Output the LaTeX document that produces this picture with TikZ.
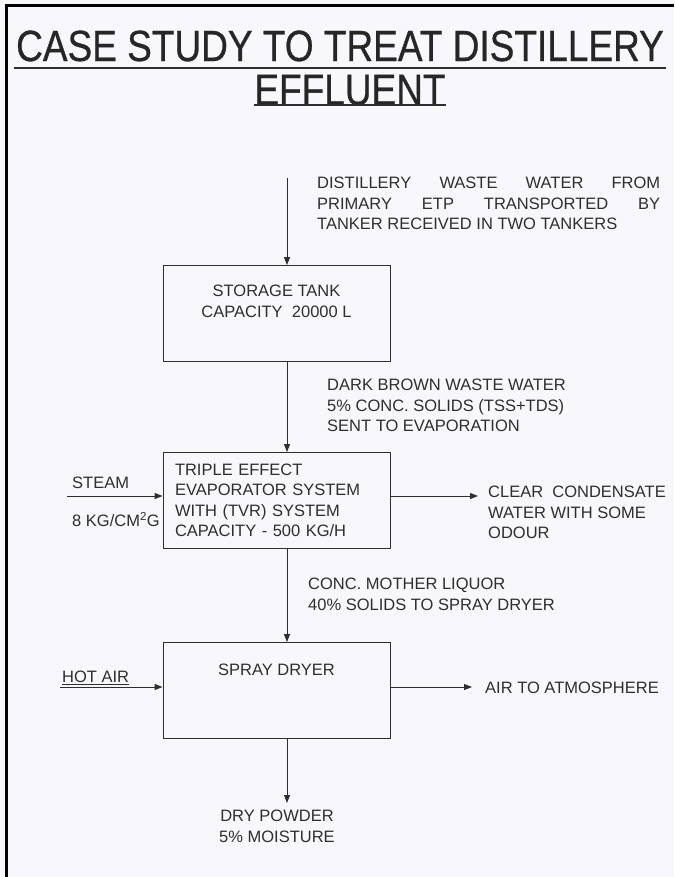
\documentclass[tikz,border=0pt]{standalone}
\usepackage{fontspec}
\setmainfont{Liberation Sans}
\newfontfamily\headfont{Liberation Sans}[FakeBold=0.7]
\usetikzlibrary{arrows.meta}
\definecolor{ink}{HTML}{2E2E2E}
\definecolor{paper}{HTML}{F8F8FC}
\begin{document}
\begin{tikzpicture}[x=1pt, y=-1pt,
  every node/.style={font=\fontsize{16.5}{20.5}\selectfont, text=ink},
  unit/.style={draw=ink, line width=0.9pt, minimum width=227pt, minimum height=96pt, inner sep=0pt},
  flow/.style={draw=ink, line width=0.9pt, -{Triangle[length=8pt,width=6pt]}},
  note/.style={align=left, anchor=north west, inner sep=0pt},
  heading/.style={font=\headfont\fontsize{37}{40}\selectfont, text=black!85, inner sep=0pt}]
  \fill[paper] (0,0) rectangle (674,877);
  \useasboundingbox (0,0) rectangle (674,877);
  \draw[black, line width=3pt] (6,877) -- (6,6) -- (674,6);
  % title
  \node[heading] (title) at (340,46) {\scalebox{1}[1.18]{CASE STUDY TO TREAT DISTILLERY}};
  \node[heading] (title2) at (350,90) {\scalebox{1}[1.18]{EFFLUENT}};
  \draw[ink, line width=1.8pt] (14,68) -- (666,68);
  \draw[ink, line width=1.8pt] (title2.west |- 0,105) -- (title2.east |- 0,105);
  % process units
  \node[unit, align=center] (tank) at (276.5,313.5) {STORAGE TANK\\CAPACITY\ \ 20000 L\\[4pt]};
  \node[unit, align=left, text width=203pt] (evap) at (276.5,500.5) {TRIPLE EFFECT\\EVAPORATOR SYSTEM\\WITH (TVR) SYSTEM\\CAPACITY - 500 KG/H};
  \node[unit, align=center] (dryer) at (276.5,690.5) {SPRAY DRYER\\[22pt]};
  % main line
  \coordinate (feed) at (287,178);
  \draw[flow] (feed) -- (feed |- tank.north);
  \draw[flow] (tank.south -| feed) -- (evap.north -| feed);
  \draw[flow] (evap.south -| feed) -- (dryer.north -| feed);
  \coordinate (powder) at (287,803);
  \draw[flow] (dryer.south -| powder) -- (powder);
  % side streams
  \coordinate (steam) at (67,496);
  \coordinate (condensate) at (478,496);
  \coordinate (hotair) at (60,687);
  \coordinate (exhaust) at (472,687);
  \draw[flow] (steam) -- (steam -| evap.west);
  \draw[flow] (evap.east |- condensate) -- (condensate);
  \draw[flow] (hotair) -- (hotair -| dryer.west);
  \draw[flow] (dryer.east |- exhaust) -- (exhaust);
  % labels
  \node[note, align=justify, text width=343pt] (feedtxt) at (317,177) {DISTILLERY WASTE WATER FROM\linebreak PRIMARY ETP TRANSPORTED BY\linebreak TANKER RECEIVED IN TWO TANKERS};
  \node[note] (browntxt) at (327,379) {DARK BROWN WASTE WATER\\5\% CONC. SOLIDS (TSS+TDS)\\SENT TO EVAPORATION};
  \node[note] (steamtxt) at (72,477) {STEAM};
  \node[note] (presstxt) at (72,512) {8 KG/CM\textsuperscript{2}G};
  \node[note] (condtxt) at (488,486) {CLEAR\ \ CONDENSATE\\WATER WITH SOME\\ODOUR};
  \node[note] (liquortxt) at (308,578) {CONC. MOTHER LIQUOR\\40\% SOLIDS TO SPRAY DRYER};
  \node[note] (hottxt) at (62,671) {\underline{HOT AIR}};
  \node[note] (airtxt) at (485,682) {AIR TO ATMOSPHERE};
  \node[note, align=center, anchor=north] (powdertxt) at (277,810) {DRY POWDER\\5\% MOISTURE};
\end{tikzpicture}
\end{document}
